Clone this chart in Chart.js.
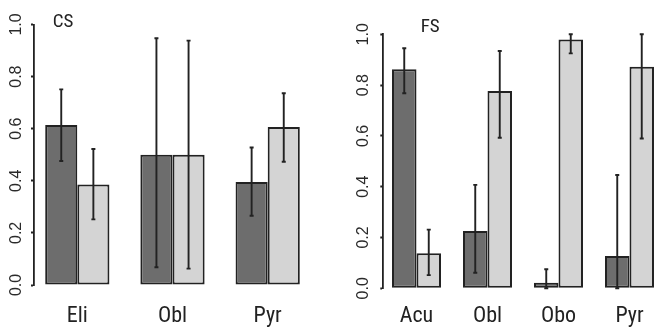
<!DOCTYPE html>
<html><head><meta charset="utf-8">
<script src="https://cdn.jsdelivr.net/npm/chart.js@4/dist/chart.umd.min.js"></script>
<style>
html,body{margin:0;padding:0;background:#fff;}
#wrap{position:relative;width:665px;height:329px;}
.p{position:absolute;top:0;height:329px;}
</style></head><body>
<div id="wrap">
<div class="p" style="left:0;width:330px"><canvas id="c1"></canvas></div>
<div class="p" style="left:330px;width:335px"><canvas id="c2"></canvas></div>
</div>
<script>
// ---- data ----
const yTickLabels = ['0.0', '0.2', '0.4', '0.6', '0.8', '1.0'];

const csTitle = 'CS';
const csCategories = ['Eli', 'Obl', 'Pyr'];
const csDark = [0.614, 0.50, 0.395];
const csDarkLow = [0.476, 0.068, 0.266];
const csDarkHigh = [0.751, 0.947, 0.528];
const csLight = [0.386, 0.50, 0.607];
const csLightLow = [0.252, 0.063, 0.473];
const csLightHigh = [0.522, 0.938, 0.736];

const fsTitle = 'FS';
const fsCategories = ['Acu', 'Obl', 'Obo', 'Pyr'];
const fsDark = [0.862, 0.226, 0.022, 0.127];
const fsDarkLow = [0.768, 0.061, 0.0, 0.0];
const fsDarkHigh = [0.945, 0.407, 0.075, 0.446];
const fsLight = [0.138, 0.777, 0.98, 0.872];
const fsLightLow = [0.052, 0.593, 0.925, 0.59];
const fsLightHigh = [0.231, 0.934, 1.0, 1.0];

// ---- styles ----
const DARK = '#6d6d6d', LIGHT = '#d4d4d4', EDGE = '#222222', INK = '#222222';
const NARROW = "'Roboto Condensed', 'Liberation Sans', sans-serif";
const REG = "'Liberation Sans', Arial, sans-serif";

const errorBars = {
  id: 'errorBars',
  afterDatasetsDraw(chart) {
    const ctx = chart.ctx, ys = chart.scales.y;
    ctx.save();
    ctx.strokeStyle = INK; ctx.lineWidth = 1.9; ctx.lineCap = 'butt';
    chart.data.datasets.forEach((ds, d) => {
      const meta = chart.getDatasetMeta(d);
      meta.data.forEach((el, i) => {
        const x = el.x;
        const yl = ys.getPixelForValue(ds.errLow[i]);
        const yh = ys.getPixelForValue(ds.errHigh[i]);
        ctx.beginPath();
        ctx.moveTo(x, yl); ctx.lineTo(x, yh);
        ctx.moveTo(x - 2, yl); ctx.lineTo(x + 2, yl);
        ctx.moveTo(x - 2, yh); ctx.lineTo(x + 2, yh);
        ctx.stroke();
      });
    });
    ctx.restore();
  }
};

const panelTitle = {
  id: 'panelTitle',
  afterDraw(chart, args, opts) {
    const ctx = chart.ctx;
    ctx.save();
    ctx.fillStyle = INK;
    ctx.font = '19px ' + NARROW;
    ctx.textAlign = 'left';
    ctx.textBaseline = 'alphabetic';
    ctx.fillText(opts.text, chart.chartArea.left + opts.dx, opts.y);
    ctx.restore();
  }
};

function makePanel(id, p) {
  const pos = p.categories.map((c, i) => i * 3 + 2);
  new Chart(document.getElementById(id), {
    type: 'bar',
    data: {
      datasets: [
        { data: p.dark.map((v, i) => ({ x: pos[i], y: v })), errLow: p.darkLow, errHigh: p.darkHigh,
          backgroundColor: DARK, borderColor: EDGE, borderWidth: 2, borderSkipped: false },
        { data: p.light.map((v, i) => ({ x: pos[i], y: v })), errLow: p.lightLow, errHigh: p.lightHigh,
          backgroundColor: LIGHT, borderColor: EDGE, borderWidth: 2, borderSkipped: false }
      ]
    },
    options: {
      responsive: true, maintainAspectRatio: false, animation: false,
      devicePixelRatio: 1,
      categoryPercentage: p.catPct, barPercentage: 1,
      layout: { padding: { left: 0, top: p.top, right: p.right, bottom: 0 } },
      plugins: { legend: { display: false }, tooltip: { enabled: false },
                 panelTitle: { text: p.title, dx: p.titleDx, y: p.titleY } },
      scales: {
        x: {
          type: 'linear', min: p.xmin, max: p.xmax, offset: false,
          grid: { display: false, offset: false }, border: { display: false },
          afterBuildTicks: s => { s.ticks = pos.map(v => ({ value: v })); },
          afterFit: s => { s.height = p.xAxisH; },
          ticks: { autoSkip: false, maxRotation: 0, padding: p.xPad, color: INK,
                   font: { family: NARROW, size: 22, lineHeight: 1.2 },
                   callback: (v, i) => p.categories[i] }
        },
        y: {
          min: 0, max: 1,
          afterFit: s => { s.width = p.yAxisW; },
          border: { display: true, color: INK, width: 1.8 },
          grid: { drawOnChartArea: false, drawTicks: true, tickLength: 3, tickColor: INK, tickWidth: 1.8 },
          ticks: { stepSize: 0.2, minRotation: 90, maxRotation: 90, crossAlign: 'center',
                   padding: p.yPad, color: '#2a2a2a',
                   font: { family: REG, size: 16 },
                   callback: (v, i) => yTickLabels[i] }
        }
      }
    },
    plugins: [errorBars, panelTitle]
  });
}

makePanel('c1', {
  title: csTitle, categories: csCategories,
  dark: csDark, darkLow: csDarkLow, darkHigh: csDarkHigh,
  light: csLight, lightLow: csLightLow, lightHigh: csLightHigh,
  catPct: 0.675, xmin: 0.635, xmax: 9.365,
  top: 24.5, right: 19, xAxisH: 44, yAxisW: 34, xPad: 10, yPad: 3,
  titleDx: 18.7, titleY: 26.7
});
makePanel('c2', {
  title: fsTitle, categories: fsCategories,
  dark: fsDark, darkLow: fsDarkLow, darkHigh: fsDarkHigh,
  light: fsLight, lightLow: fsLightLow, lightHigh: fsLightHigh,
  catPct: 0.69, xmin: 0.597, xmax: 12.403,
  top: 34.3, right: 2.3, xAxisH: 40.7, yAxisW: 53.3, xPad: 7, yPad: 5.5,
  titleDx: 37.4, titleY: 31.7
});
</script>
</body></html>
